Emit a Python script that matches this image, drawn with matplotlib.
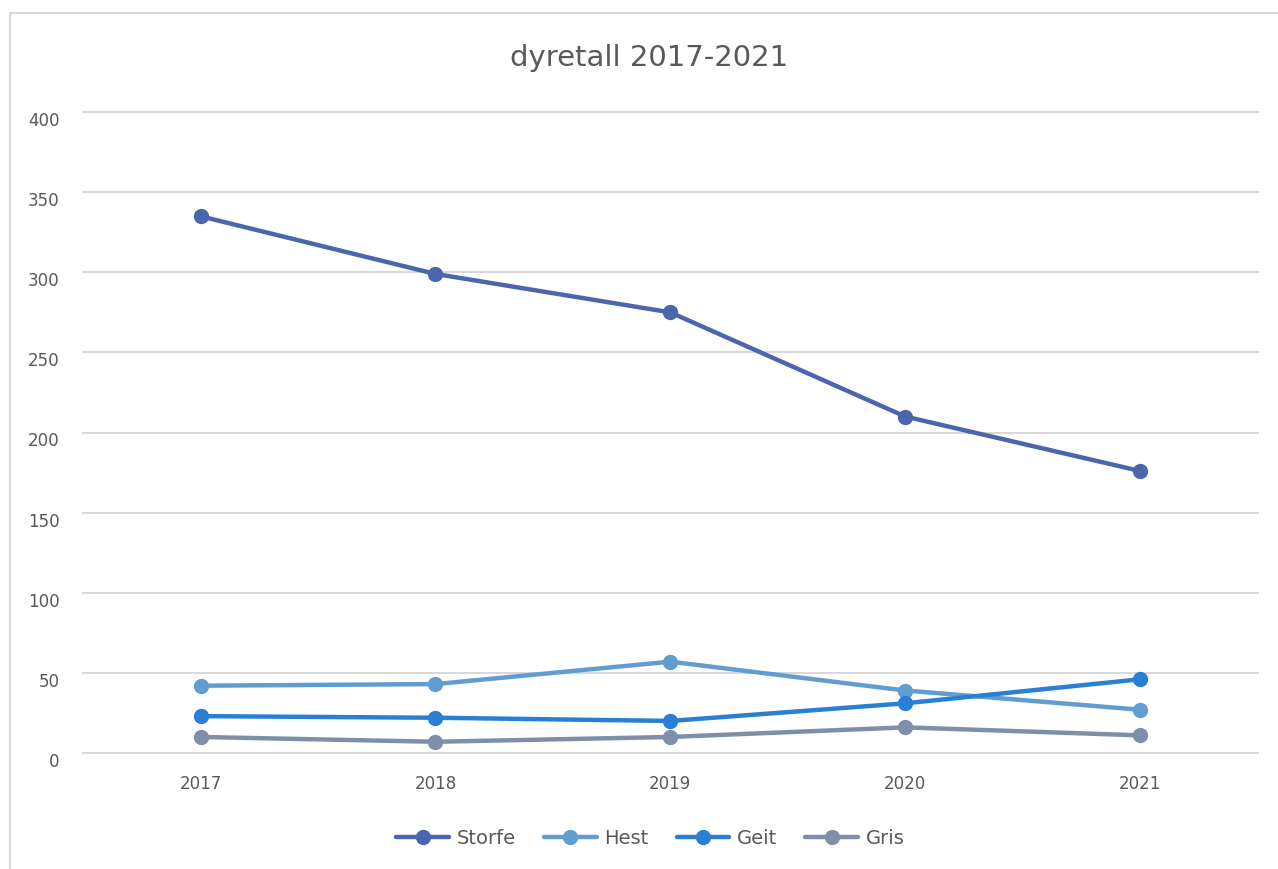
import matplotlib
matplotlib.use("Agg")
import matplotlib.pyplot as plt
import matplotlib.transforms as mtransforms
from matplotlib.patches import Rectangle

# data
years = ["2017", "2018", "2019", "2020", "2021"]
storfe = [335, 299, 275, 210, 176]
hest = [42, 43, 57, 39, 27]
geit = [23, 22, 20, 31, 46]
gris = [10, 7, 10, 16, 11]

series_names = ["Storfe", "Hest", "Geit", "Gris"]
series_colors = ["#4A66AC", "#629DD1", "#297FD5", "#7F8FA9"]

text_color = "#595959"

fig = plt.figure(figsize=(12.78, 8.69), dpi=100)
ax = fig.add_axes([0.065, 0.1335, 0.919, 0.7375])

# outer chart border (left/top visible)
fig.patches.append(Rectangle((10 / 1278, -0.05), 1.2, 1 - 13 / 869 + 0.05,
                             transform=fig.transFigure, fill=False,
                             edgecolor="#D9D9D9", linewidth=1.5))

x = range(len(years))
for vals, name, col in zip([storfe, hest, geit, gris], series_names, series_colors):
    ax.plot(x, vals, color=col, linewidth=3.2, marker="o", markersize=10,
            label=name, solid_capstyle="round", zorder=3)

ax.set_xlim(-0.5, len(years) - 0.5)
ax.set_ylim(0, 400)
ax.set_yticks(range(0, 401, 50))
ax.set_xticks(list(x))
ax.set_xticklabels(years)
ax.grid(axis="y", color="#D9D9D9", linewidth=1.5, zorder=0)
ax.set_axisbelow(True)
for gl in ax.get_ygridlines():
    gl.set_clip_on(False)
for s in ax.spines.values():
    s.set_visible(False)
ax.tick_params(axis="both", length=0, colors=text_color, labelsize=12)
ax.tick_params(axis="y", pad=17)
ax.tick_params(axis="x", pad=16)
# y labels sit a little below their gridlines
shift = mtransforms.ScaledTranslation(0, -5 / 72, fig.dpi_scale_trans)
for lab in ax.get_yticklabels():
    lab.set_transform(lab.get_transform() + shift)

fig.text(0.508, 0.933, "dyretall 2017-2021", ha="center", va="center",
         fontsize=21, color=text_color)

leg = fig.legend(loc="center", bbox_to_anchor=(0.509, 0.035), ncol=4,
                 frameon=False, fontsize=14, handlelength=2.7,
                 handletextpad=0.4, columnspacing=1.45)
for t in leg.get_texts():
    t.set_color(text_color)

fig.savefig("out.png", dpi=100)
